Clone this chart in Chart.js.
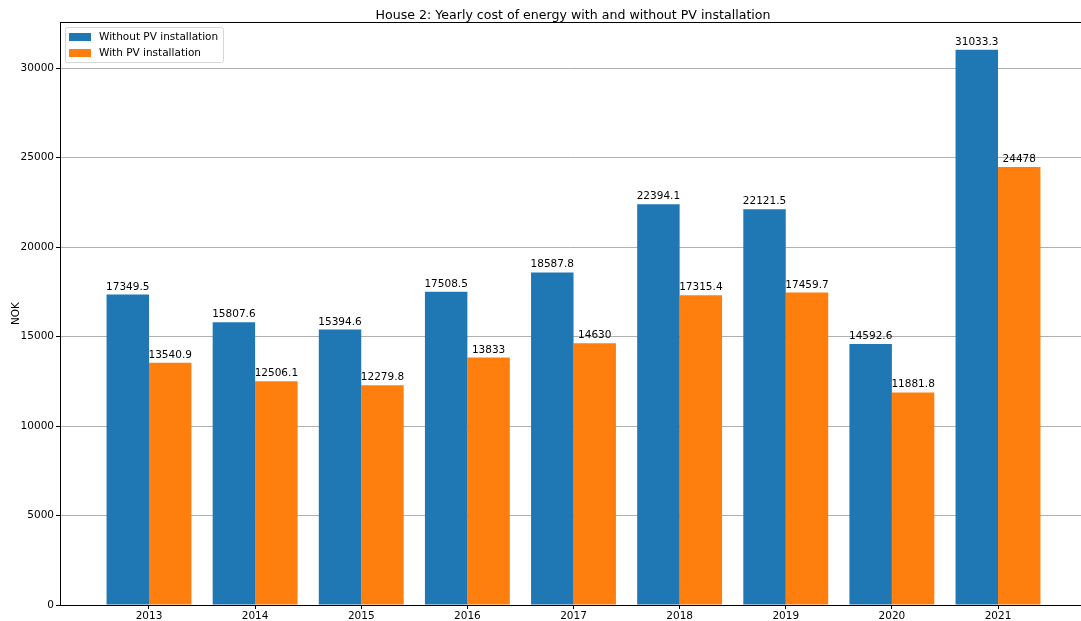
<!DOCTYPE html>
<html>
<head>
<meta charset="utf-8">
<script src="https://cdn.jsdelivr.net/npm/chart.js@4/dist/chart.umd.min.js"></script>
<style>
  html, body { margin: 0; padding: 0; background: #fff; overflow: hidden; }
  #wrap { width: 1081px; height: 621px; position: relative; }
</style>
</head>
<body>
<div id="wrap"><canvas id="costChart"></canvas></div>
<script>
const years = ['2013', '2014', '2015', '2016', '2017', '2018', '2019', '2020', '2021'];
const withoutPV = [17349.5, 15807.6, 15394.6, 17508.5, 18587.8, 22394.1, 22121.5, 14592.6, 31033.3];
const withPV = [13540.9, 12506.1, 12279.8, 13833, 14630, 17315.4, 17459.7, 11881.8, 24478];
const yTicks = [0, 5000, 10000, 15000, 20000, 25000, 30000];
const seriesNames = ['Without PV installation', 'With PV installation'];
const colors = ['#1f77b4', '#ff7f0e'];

const FONT = 'DejaVu Sans';

// frame, title, y label, value labels and legend drawn on top
const decorations = {
    id: 'decorations',
    afterDraw(chart) {
        const c = chart.ctx;
        const a = chart.chartArea;
        c.save();

        // value labels above bars
        c.fillStyle = '#000';
        c.font = '10.5px "' + FONT + '"';
        c.textAlign = 'center';
        c.textBaseline = 'alphabetic';
        chart.data.datasets.forEach((ds, di) => {
            chart.getDatasetMeta(di).data.forEach((bar, i) => {
                c.fillText(String(ds.data[i].y), bar.x, bar.y - 5);
            });
        });

        // frame (right side falls off the canvas like the original)
        c.strokeStyle = '#000';
        c.lineWidth = 1;
        c.strokeRect(Math.round(a.left) + 0.5, Math.round(a.top) + 0.5,
            Math.round(a.right - a.left) + 4, Math.round(a.bottom - a.top));

        // title
        c.font = '12.6px "' + FONT + '"';
        c.fillText('House 2: Yearly cost of energy with and without PV installation', 573, 19);

        // y axis label
        c.font = '10.5px "' + FONT + '"';
        c.translate(19, (a.top + a.bottom) / 2);
        c.rotate(-Math.PI / 2);
        c.fillText('NOK', 0, 0);
        c.setTransform(1, 0, 0, 1, 0, 0);

        // legend
        const lx = a.left + 5, ly = a.top + 5, lw = 158, lh = 35;
        c.fillStyle = 'rgba(255,255,255,0.8)';
        c.strokeStyle = '#d6d6d6';
        c.beginPath();
        c.roundRect(lx + 0.5, ly + 0.5, lw, lh, 2);
        c.fill();
        c.stroke();
        c.textAlign = 'left';
        c.textBaseline = 'middle';
        seriesNames.forEach((name, i) => {
            const cy = ly + 10 + i * 16;
            c.fillStyle = colors[i];
            c.fillRect(lx + 4, cy - 4, 22, 8);
            c.fillStyle = '#000';
            c.fillText(name, lx + 34, cy);
        });
        c.restore();
    }
};

const ctx = document.getElementById('costChart').getContext('2d');
new Chart(ctx, {
    type: 'bar',
    data: {
        datasets: [
            {
                label: seriesNames[0],
                data: withoutPV.map((v, i) => ({ x: i, y: v })),
                backgroundColor: colors[0],
                borderWidth: 0,
                inflateAmount: 0
            },
            {
                label: seriesNames[1],
                data: withPV.map((v, i) => ({ x: i, y: v })),
                backgroundColor: colors[1],
                borderWidth: 0,
                inflateAmount: 0
            }
        ]
    },
    options: {
        responsive: true,
        maintainAspectRatio: false,
        animation: false,
        categoryPercentage: 0.8,
        barPercentage: 1.0,
        layout: {
            padding: { left: 0, right: 0, top: 22, bottom: 0 }
        },
        plugins: {
            legend: { display: false },
            title: { display: false },
            tooltip: { enabled: false }
        },
        scales: {
            x: {
                type: 'linear',
                offset: false,
                // axis runs past the right edge of the image in the original
                min: -0.8386,
                max: 8.782,
                afterBuildTicks: s => { s.ticks = years.map((_, i) => ({ value: i })); },
                afterFit: s => { s.height = 16; },
                ticks: {
                    color: '#000',
                    padding: 1,
                    maxRotation: 0,
                    autoSkip: false,
                    font: { family: FONT, size: 10.5 },
                    callback: v => years[v]
                },
                grid: {
                    offset: false,
                    drawOnChartArea: false,
                    color: '#000',
                    tickColor: '#000',
                    tickLength: 4
                },
                border: { display: false }
            },
            y: {
                min: 0,
                max: Math.max(...withoutPV) * 1.05,
                z: 1,
                afterBuildTicks: s => { s.ticks = yTicks.map(v => ({ value: v })); },
                afterFit: s => { s.width = 60; },
                ticks: {
                    color: '#000',
                    padding: 2,
                    font: { family: FONT, size: 10.5 },
                    callback: v => String(v)
                },
                grid: {
                    color: ctx => ctx.tick && ctx.tick.value === 0 ? 'rgba(0,0,0,0)' : '#b0b0b0',
                    lineWidth: 1,
                    tickColor: '#000',
                    tickLength: 4
                },
                border: { display: false }
            }
        }
    },
    plugins: [decorations]
});
</script>
</body>
</html>
